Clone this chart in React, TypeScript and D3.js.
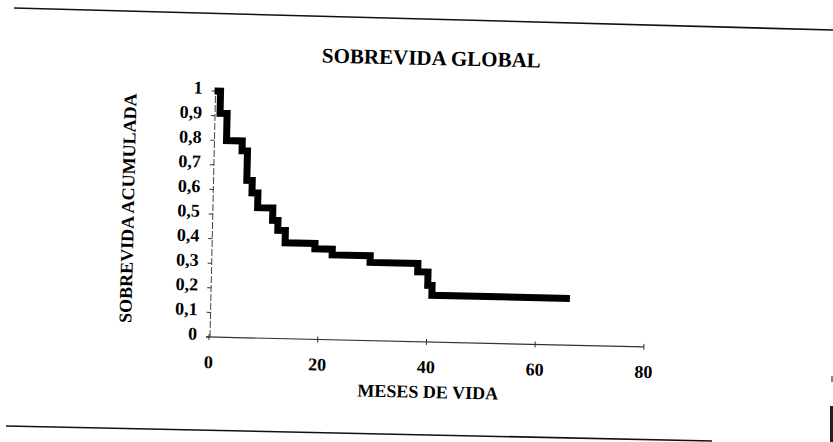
import * as d3 from 'd3';

// Kaplan-Meier style survival steps
const months = [0, 1.1, 2.4, 5.3, 6.3, 7.3, 8.4, 11.2, 12.2, 13.6, 19.1, 22.3, 29.3, 38.1, 40.0, 40.8, 66.2];
const survival = [1, 0.91, 0.8, 0.76, 0.64, 0.59, 0.53, 0.48, 0.44, 0.39, 0.368, 0.345, 0.318, 0.284, 0.23, 0.19, 0.19];

const xTicks = [0, 20, 40, 60, 80];
const yTicks = [0, 0.1, 0.2, 0.3, 0.4, 0.5, 0.6, 0.7, 0.8, 0.9, 1];

const title = 'SOBREVIDA GLOBAL';
const xTitle = 'MESES DE VIDA';
const yTitle = 'SOBREVIDA ACUMULADA';

const W = 833;
const H = 442;
const font = '"Liberation Serif", "Times New Roman", serif';

const App = () => {
  const x = d3.scaleLinear().domain([0, 80]).range([209, 644]);
  const y = d3.scaleLinear().domain([0, 1]).range([337, 91]);

  const pts: [number, number][] = months.map((m, i) => [m, survival[i]]);
  const line = d3.line<[number, number]>()
    .x(d => x(d[0]))
    .y(d => y(d[1]))
    .curve(d3.curveStepAfter);

  const fmt = (v: number) => (v === 0 || v === 1 ? String(v) : d3.format('.1f')(v).replace('.', ','));

  const x0 = x(0);
  const y0 = y(0);

  return (
    <svg width={W} height={H} style={{ position: 'absolute', left: 0, top: 0, background: '#fff' }}>
      {/* scanned page rules */}
      <line x1={14} y1={8} x2={833} y2={30} stroke="#111" strokeWidth={1.6} />
      <line x1={6} y1={426} x2={712} y2={441} stroke="#111" strokeWidth={1.6} />
      <rect x={830} y={406} width={3} height={36} fill="#222" />
      <rect x={831} y={376} width={2} height={6} fill="#888" />

      <g transform={`rotate(1.3, ${x0}, ${y0})`} fontFamily={font} fontWeight="bold" fill="#000">
        <text x={425} y={53} textAnchor="middle" dominantBaseline="central" fontSize={21}>{title}</text>
        <text x={429} y={387} textAnchor="middle" dominantBaseline="central" fontSize={18}>{xTitle}</text>
        <text
          transform={`translate(125, 210) rotate(-90)`}
          textAnchor="middle"
          dominantBaseline="central"
          fontSize={18}
        >{yTitle}</text>

        {/* y axis */}
        <line x1={x0 + 1} y1={y0} x2={x0 + 1} y2={y(1)} stroke="#444" strokeWidth={1} strokeDasharray="7,2" />
        {yTicks.map(t => (
          <g key={t}>
            <line x1={x0 - 3} x2={x0 + 1} y1={y(t)} y2={y(t)} stroke="#333" strokeWidth={1} />
            <text x={x0 - 12} y={y(t) - 3} textAnchor="end" dominantBaseline="central" fontSize={18}>{fmt(t)}</text>
          </g>
        ))}

        {/* x axis */}
        <line x1={x0 - 3} y1={y0} x2={x(80)} y2={y0} stroke="#333" strokeWidth={1.2} />
        {xTicks.map(t => (
          <g key={t}>
            <line x1={x(t)} x2={x(t)} y1={y0 - 3} y2={y0 + 3} stroke="#333" strokeWidth={1} />
            <text x={x(t)} y={y0 + 25} textAnchor="middle" dominantBaseline="central" fontSize={18}>{t}</text>
          </g>
        ))}

        <path d={line(pts) ?? ''} fill="none" stroke="#000" strokeWidth={7} strokeLinejoin="miter" strokeLinecap="butt" />
      </g>
    </svg>
  );
};

export default App;
